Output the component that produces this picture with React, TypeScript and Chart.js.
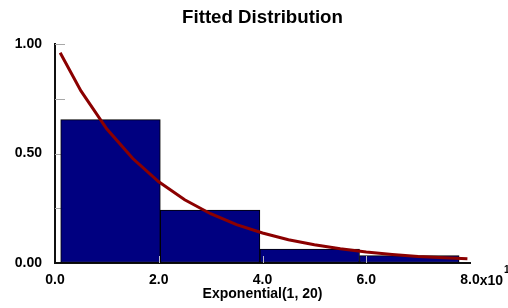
import React, { useEffect, useRef } from "react";
import { Chart, registerables } from "chart.js";

Chart.register(...registerables);

// Histogram bins (x in raw units, axis shown in units of 10)
const binStarts = [1.1, 20.3, 39.5, 58.7];
const binWidth = 19.2;
const binValues = [0.655, 0.242, 0.064, 0.034];

// Fitted exponential curve
const curveX = [1, 5, 10, 15, 20, 25, 30, 35, 40, 45, 50, 55, 60, 65, 70, 75, 79.5];
const curveY = [0.96, 0.786, 0.612, 0.477, 0.371, 0.289, 0.225, 0.175, 0.137, 0.106, 0.083, 0.065, 0.05, 0.039, 0.03, 0.024, 0.019];

const yTicks = [0, 0.25, 0.5, 0.75, 1.0];
const yLabelled = [0, 0.5, 1.0];
const xTicks = [0, 20, 40, 60, 80];

const TITLE = "Fitted Distribution";
const X_TITLE = "Exponential(1, 20)";
const X_EXP_BASE = "x10";
const X_EXP = "1";

const FONT = "'Liberation Sans', Arial, sans-serif";

export default function App() {
  const ref = useRef<HTMLCanvasElement | null>(null);

  useEffect(() => {
    const canvas = ref.current;
    if (!canvas) return;

    const overlay = {
      id: "overlay",
      beforeDatasetsDraw(chart: any) {
        const { ctx, chartArea, scales } = chart;
        const y = scales.y;
        ctx.save();
        ctx.strokeStyle = "#a8a8a8";
        ctx.lineWidth = 1;
        for (const v of yTicks) {
          if (v === 0) continue;
          const py = Math.round(y.getPixelForValue(v)) + 0.5;
          ctx.beginPath();
          ctx.moveTo(chartArea.left, py);
          ctx.lineTo(chartArea.left + 10, py);
          ctx.stroke();
        }
        ctx.restore();
      },
      afterDatasetsDraw(chart: any) {
        const { ctx, chartArea, scales } = chart;
        const x = scales.x;
        ctx.save();
        ctx.strokeStyle = "#b8b8c8";
        ctx.lineWidth = 1;
        for (const v of xTicks) {
          if (v === 0 || v === 80) continue;
          const px = Math.round(x.getPixelForValue(v)) + 0.5;
          ctx.beginPath();
          ctx.moveTo(px, chartArea.bottom);
          ctx.lineTo(px, chartArea.bottom - 7);
          ctx.stroke();
        }
        ctx.restore();
      },
      afterDraw(chart: any) {
        const { ctx, chartArea, scales } = chart;
        const x = scales.x;
        ctx.save();
        ctx.fillStyle = "#000";
        ctx.font = `bold 18.7px ${FONT}`;
        ctx.textAlign = "center";
        ctx.textBaseline = "alphabetic";
        ctx.fillText(TITLE, (chartArea.left + chartArea.right) / 2, 23);

        ctx.font = `bold 14px ${FONT}`;
        const lastPx = x.getPixelForValue(80);
        const w = ctx.measureText("8.0").width;
        ctx.textAlign = "left";
        const ly = 285;
        ctx.fillText(X_EXP_BASE, lastPx + w / 2, ly);
        const w2 = ctx.measureText(X_EXP_BASE).width;
        ctx.font = `bold 10px ${FONT}`;
        ctx.fillText(X_EXP, lastPx + w / 2 + w2 + 1, ly - 12);
        ctx.restore();
      },
    };

    const chart = new Chart(canvas, {
      type: "bar",
      data: {
        datasets: [
          {
            type: "line",
            data: curveX.map((v, i) => ({ x: v, y: curveY[i] })),
            borderColor: "#8b0000",
            borderWidth: 3,
            pointRadius: 0,
            tension: 0,
            fill: false,
            order: 0,
          } as any,
          {
            type: "bar",
            data: binStarts.map((s, i) => ({ x: s + binWidth / 2, y: binValues[i] })),
            backgroundColor: "#000080",
            borderColor: "#000000",
            borderWidth: 1,
            borderSkipped: false,
            barPercentage: 1,
            categoryPercentage: 1,
            order: 1,
          } as any,
        ],
      },
      options: {
        responsive: false,
        animation: false,
        layout: { padding: { left: 0, right: 38, top: 44, bottom: 0 } },
        plugins: {
          legend: { display: false },
          tooltip: { enabled: false },
          title: { display: false },
        },
        scales: {
          x: {
            type: "linear",
            min: 0,
            max: 80,
            offset: false,
            afterFit: (s: any) => {
              s.height = 45;
            },
            afterBuildTicks: (s: any) => {
              s.ticks = xTicks.map((v) => ({ value: v }));
            },
            grid: { display: true, drawOnChartArea: false, drawTicks: false },
            border: { display: true, color: "#101010", width: 2 },
            ticks: {
              autoSkip: false,
              maxRotation: 0,
              padding: 9,
              color: "#000",
              font: { family: FONT, size: 14, weight: "bold" },
              callback: (v: any) => (Number(v) / 10).toFixed(1),
            },
            title: {
              display: true,
              text: X_TITLE,
              color: "#000",
              font: { family: FONT, size: 14, weight: "bold" },
              padding: { top: 0, bottom: 5 },
            },
          },
          y: {
            type: "linear",
            min: 0,
            max: 1,
            afterFit: (s: any) => {
              s.width = 55;
            },
            afterBuildTicks: (s: any) => {
              s.ticks = yTicks.map((v) => ({ value: v }));
            },
            grid: { display: true, drawOnChartArea: false, drawTicks: false },
            border: { display: true, color: "#101010", width: 2 },
            ticks: {
              autoSkip: false,
              padding: 13,
              color: "#000",
              font: { family: FONT, size: 14, weight: "bold" },
              callback: (v: any) => (yLabelled.includes(Number(v)) ? Number(v).toFixed(2) : ""),
            },
          },
        },
      } as any,
      plugins: [overlay],
    });

    return () => chart.destroy();
  }, []);

  return (
    <div style={{ position: "fixed", left: 0, top: 0, width: 508, height: 308, background: "#fff" }}>
      <canvas ref={ref} width={508} height={308} style={{ display: "block", width: 508, height: 308 }} />
    </div>
  );
}
